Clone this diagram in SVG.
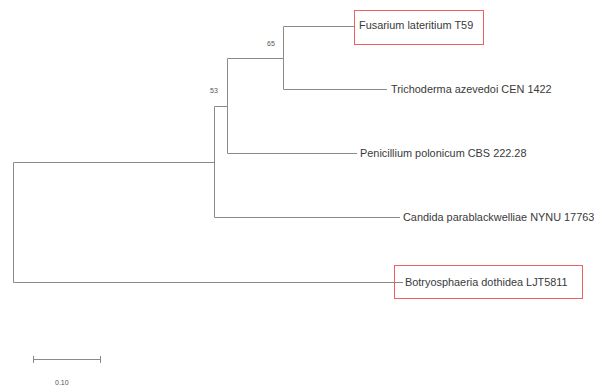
<svg xmlns="http://www.w3.org/2000/svg" width="594" height="387" viewBox="0 0 594 387">
<style>
.b{fill:none;stroke:#8a8a8a;stroke-width:1}
.t{font-family:"Liberation Sans",Arial,sans-serif;font-size:10.9px;fill:#3a3a3a}
.s{font-family:"Liberation Sans",Arial,sans-serif;font-size:7px;fill:#555}
.box{fill:none;stroke:#f06060;stroke-width:1}
</style>
<rect width="594" height="387" fill="#fff"/>
<g id="connectors">
<path class="b" d="M13.5,162.5V282.5M13.5,162.5H214.5M13.5,282.5H403"/>
<path class="b" d="M214.5,106.5V217.5M214.5,106.5H227.5M214.5,217.5H400"/>
<path class="b" d="M227.5,58.5V153.5M227.5,58.5H283.5M227.5,153.5H357"/>
<path class="b" d="M283.5,26.5V89.5M283.5,26.5H354M283.5,89.5H387"/>
</g>
<g id="n-fusarium">
<rect class="box" x="354.5" y="10.5" width="129" height="34"/>
<text class="t" x="359" y="29">Fusarium lateritium T59</text>
</g>
<g id="n-trichoderma">
<text class="t" x="391" y="93">Trichoderma azevedoi CEN 1422</text>
</g>
<g id="n-penicillium">
<text class="t" x="360" y="157">Penicillium polonicum CBS 222.28</text>
</g>
<g id="n-candida">
<text class="t" x="403" y="221">Candida parablackwelliae NYNU 17763</text>
</g>
<g id="n-botryosphaeria">
<rect class="box" x="394.5" y="265.5" width="188" height="33"/>
<text class="t" x="405" y="286">Botryosphaeria dothidea LJT5811</text>
</g>
<g id="bootstrap">
<text class="s" x="267" y="46">65</text>
<text class="s" x="210" y="93">53</text>
</g>
<g id="scale">
<path class="b" d="M33.5,359.5H100.5M33.5,356V363M100.5,356V363"/>
<text class="s" x="55" y="385">0.10</text>
</g>
</svg>
